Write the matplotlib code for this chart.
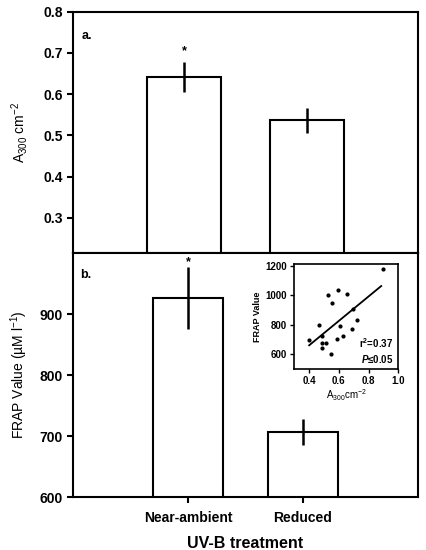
import numpy as np
import matplotlib
matplotlib.use("Agg")
import matplotlib.pyplot as plt

# ── Data ──────────────────────────────────────────────────────────────────────

treatments = ["Near-ambient", "Reduced"]

a300_mean = [0.642, 0.537]
a300_err = [0.037, 0.030]

frap_mean = [926, 707]
frap_err = [51, 21.5]

# inset: FRAP vs A300 per sample
inset_a300 = [0.400, 0.466, 0.485, 0.487, 0.515, 0.489, 0.526, 0.551, 0.547,
              0.597, 0.606, 0.588, 0.654, 0.629, 0.691, 0.698, 0.725, 0.897]
inset_frap = [700, 795, 727, 675, 675, 643, 1005, 949, 600,
              1035, 790, 702, 1010, 725, 768, 906, 835, 1175]
fit_slope = 829.0
fit_intercept = 329.0
fit_range = [0.40, 0.885]

# ── Style ─────────────────────────────────────────────────────────────────────

plt.rcParams["font.family"] = ["Liberation Sans", "DejaVu Sans"]
plt.rcParams["mathtext.fontset"] = "custom"
plt.rcParams["mathtext.rm"] = "Liberation Sans"
plt.rcParams["mathtext.bf"] = "Liberation Sans:bold"
plt.rcParams["mathtext.it"] = "Liberation Sans:bold:italic"

W, H = 426, 550
fig = plt.figure(figsize=(W / 100, H / 100), dpi=100)

left, right = 73 / W, 418 / W
ax_a = fig.add_axes([left, 1 - 253 / H, right - left, (253 - 11.7) / H])
ax_b = fig.add_axes([left, 1 - 497 / H, right - left, (497 - 253) / H])


def style_main(ax):
    for s in ax.spines.values():
        s.set_linewidth(1.5)
    ax.tick_params(axis="y", direction="out", length=4, width=1.5, labelsize=10)
    for lab in ax.get_yticklabels():
        lab.set_fontweight("bold")


# ── Panel a ───────────────────────────────────────────────────────────────────
x = np.arange(len(treatments))
ax_a.bar(x, a300_mean, width=0.6, color="white", edgecolor="black", linewidth=1.5)
ax_a.errorbar(x, a300_mean, yerr=a300_err, fmt="none", ecolor="black",
              elinewidth=1.8, capsize=0)
ax_a.set_xlim(-0.9, 1.9)
ax_a.set_ylim(0.215, 0.8)
ax_a.set_yticks([0.3, 0.4, 0.5, 0.6, 0.7, 0.8])
ax_a.set_xticks([])
style_main(ax_a)
ax_a.set_ylabel("A$_{300}$ cm$^{-2}$", fontsize=10)
ax_a.yaxis.set_label_coords(-0.125, 0.5)
ax_a.text(0.025, 0.9, "a.", transform=ax_a.transAxes, fontsize=9,
          fontweight="bold", va="center")
ax_a.text(x[0], a300_mean[0] + a300_err[0] + 0.025, "*", ha="center",
          va="center", fontsize=9, fontweight="bold")

# ── Panel b ───────────────────────────────────────────────────────────────────
ax_b.bar(x, frap_mean, width=0.61, color="white", edgecolor="black", linewidth=1.5)
ax_b.errorbar(x, frap_mean, yerr=frap_err, fmt="none", ecolor="black",
              elinewidth=1.8, capsize=0)
ax_b.set_xlim(-1, 2)
ax_b.set_ylim(600, 1000)
ax_b.set_yticks([600, 700, 800, 900])
ax_b.set_xticks(x)
ax_b.set_xticklabels(treatments, fontsize=10, fontweight="bold")
ax_b.tick_params(axis="x", direction="out", length=4, width=1.5, pad=6)
style_main(ax_b)
ax_b.set_ylabel("FRAP Value (µM l$^{-1}$)", fontsize=10)
ax_b.yaxis.set_label_coords(-0.125, 0.5)
ax_b.set_xlabel("UV-B treatment", fontsize=11.5, fontweight="bold", labelpad=8)
ax_b.text(0.02, 0.91, "b.", transform=ax_b.transAxes, fontsize=9,
          fontweight="bold", va="center")
ax_b.text(x[0], frap_mean[0] + frap_err[0] + 8, "*", ha="center",
          va="center", fontsize=9, fontweight="bold")

# ── Inset ─────────────────────────────────────────────────────────────────────
ax_i = fig.add_axes([294.3 / W, 1 - 369 / H, (398.3 - 294.3) / W, (369 - 264.3) / H])
ax_i.scatter(inset_a300, inset_frap, s=4, color="black", zorder=3)
fx = np.array(fit_range)
ax_i.plot(fx, fit_intercept + fit_slope * fx, color="black", linewidth=1.3)
ax_i.set_xlim(0.3, 1.0)
ax_i.set_ylim(500, 1210)
ax_i.set_xticks([0.4, 0.6, 0.8, 1.0])
ax_i.set_yticks([600, 800, 1000, 1200])
for s in ax_i.spines.values():
    s.set_linewidth(1.2)
ax_i.tick_params(direction="out", length=3, width=1.0, labelsize=7, pad=2)
for lab in ax_i.get_xticklabels() + ax_i.get_yticklabels():
    lab.set_fontweight("bold")
ax_i.set_ylabel("FRAP Value", fontsize=6.5, fontweight="bold", labelpad=3)
ax_i.set_xlabel("A$_{300}$cm$^{-2}$", fontsize=7, labelpad=1)
ax_i.text(0.95, 0.25, "r$^{\\mathbf{2}}$=0.37", transform=ax_i.transAxes,
          fontsize=7, fontweight="bold", ha="right", va="center")
ax_i.text(0.95, 0.1, "$P$\u22640.05", transform=ax_i.transAxes,
          fontsize=7, fontweight="bold", ha="right", va="center")

fig.savefig("out.png", dpi=100)
